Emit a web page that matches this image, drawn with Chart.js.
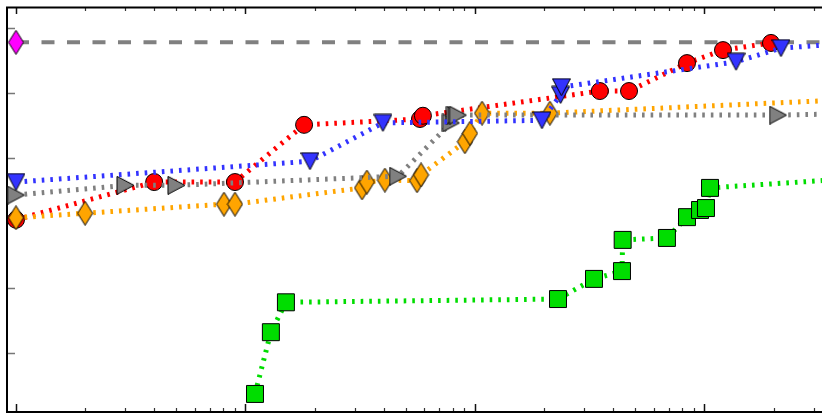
<!DOCTYPE html>
<html>
<head>
<meta charset="utf-8">
<script src="https://cdn.jsdelivr.net/npm/chart.js@4.4.1/dist/chart.umd.min.js"></script>
<style>
  html, body { margin: 0; padding: 0; background: #fff; overflow: hidden; }
  canvas { display: block; }
</style>
</head>
<body>
<canvas id="chart" width="822" height="414"></canvas>
<script>
// series (x on log scale)
const redX    = [1, 4.0, 9.0, 18, 57.6, 59.3, 350, 469, 839, 1204, 1949]
const redY    = [3.05, 3.63, 3.63, 4.51, 4.60, 4.65, 5.03, 5.03, 5.46, 5.66, 5.77]

const blueX   = [1, 19.1, 39.7, 195.8, 236, 238, 1372, 2154, 5817]
const blueY   = [3.63, 3.95, 4.54, 4.58, 4.97, 5.09, 5.48, 5.69, 5.80]

const grayX   = [1, 3.0, 5.0, 46.2, 78.6, 81.8, 84.3, 2091, 5817]
const grayY   = [3.43, 3.58, 3.58, 3.72, 4.54, 4.66, 4.66, 4.66, 4.69]

const orangeX = [1, 2.0, 8.06, 9.0, 32.2, 33.8, 40.5, 55.9, 58.2, 90.4, 95.1, 107.3, 212, 5817]
const orangeY = [3.08, 3.15, 3.29, 3.29, 3.54, 3.63, 3.66, 3.65, 3.74, 4.25, 4.38, 4.69, 4.69, 4.92]

const greenX  = [11.0, 12.9, 15.0, 230, 330, 437, 440, 686, 839, 956, 1015, 1057, 5817]
const greenY  = [0.37, 1.32, 1.78, 1.83, 2.14, 2.26, 2.74, 2.77, 3.09, 3.20, 3.23, 3.54, 3.71]

const magentaX = [1]
const magentaY = [5.78]

const refX = [1, 5817]
const refY = [5.78, 5.78]

// axis ticks (no labels)
const xMajorTicks = [1, 10, 100, 1000]
const yTicks      = [1, 2, 3, 4, 5, 6]

const pts = (xs, ys) => xs.map((x, i) => ({ x, y: ys[i] }))

// marker sprites: polygon in a w×h box, 1px black edge
function sprite(w, h, poly, fill) {
  const c = document.createElement("canvas")
  c.width = w
  c.height = h
  const g = c.getContext("2d")
  g.beginPath()
  poly.forEach(([px, py], i) => i ? g.lineTo(px, py) : g.moveTo(px, py))
  g.closePath()
  g.fillStyle = fill
  g.fill()
  g.lineWidth = 1
  g.strokeStyle = "#000"
  g.stroke()
  return c
}

const thinDiamond = fill => sprite(17, 25, [[8.5, 0.5], [16, 12.5], [8.5, 24.5], [1, 12.5]], fill)
const triDown     = fill => sprite(19, 19, [[0.5, 1], [18.5, 1], [9.5, 18]], fill)
const triRight    = fill => sprite(19, 19, [[1, 0.5], [18, 9.5], [1, 18.5]], fill)

const dotted = [2.6, 6]

function series(data, color, extra) {
  return Object.assign({
    data,
    borderColor: color,
    backgroundColor: color,
    pointBackgroundColor: color,
    pointBorderColor: "#000",
    pointBorderWidth: 1,
    borderWidth: 5,
    borderDash: dotted,
    borderCapStyle: "butt",
    tension: 0,
    fill: false
  }, extra)
}

// frame and inward tick marks
const frame = {
  id: "frame",
  beforeDatasetsDraw(chart) {
    const { ctx, chartArea: a, scales: { x, y } } = chart
    ctx.save()
    ctx.strokeStyle = "#333"
    ctx.lineWidth = 1.2
    const minors = []
    xMajorTicks.forEach(d => { for (let k = 2; k < 10; k++) minors.push(d * k) })
    minors.forEach(v => {
      const px = Math.round(x.getPixelForValue(v)) + 0.5
      if (px < a.left || px > a.right) return
      ctx.beginPath()
      ctx.moveTo(px, a.top); ctx.lineTo(px, a.top + 4)
      ctx.moveTo(px, a.bottom); ctx.lineTo(px, a.bottom - 4)
      ctx.stroke()
    })
    ctx.strokeStyle = "#111"
    ctx.lineWidth = 1.5
    xMajorTicks.forEach(v => {
      const px = Math.round(x.getPixelForValue(v)) + 0.5
      ctx.beginPath()
      ctx.moveTo(px, a.top); ctx.lineTo(px, a.top + 7)
      ctx.moveTo(px, a.bottom); ctx.lineTo(px, a.bottom - 8)
      ctx.stroke()
    })
    ctx.strokeStyle = "#777"
    ctx.lineWidth = 1.5
    yTicks.forEach(v => {
      const py = Math.round(y.getPixelForValue(v)) + 0.5
      ctx.beginPath()
      ctx.moveTo(a.left, py); ctx.lineTo(a.left + 8, py)
      ctx.stroke()
    })
    ctx.strokeStyle = "#000"
    ctx.lineWidth = 2
    ctx.beginPath()
    ctx.moveTo(a.right + 2, a.top + 0.5)
    ctx.lineTo(a.left, a.top + 0.5)
    ctx.lineTo(a.left, a.bottom)
    ctx.lineTo(a.right + 2, a.bottom)
    ctx.stroke()
    ctx.restore()
  }
}

new Chart(document.getElementById("chart"), {
  type: "line",
  data: {
    datasets: [
      {
        data: pts(refX, refY),
        borderColor: "#808080",
        borderWidth: 4,
        borderDash: [13, 12.5],
        pointRadius: 0,
        order: 7
      },
      series(pts(redX, redY), "#ff0000", { pointStyle: "circle", pointRadius: 8.5, order: 6 }),
      series(pts(orangeX, orangeY), "#ffa500", { pointStyle: thinDiamond("#ffa500"), order: 5 }),
      series(pts(grayX, grayY), "#808080", { pointStyle: triRight("#808080"), order: 4 }),
      series(pts(blueX, blueY), "#3333ff", { pointStyle: triDown("#3333ff"), order: 3 }),
      series(pts(greenX, greenY), "#00dd00", { pointStyle: "rect", pointRadius: 12, order: 2 }),
      {
        data: pts(magentaX, magentaY),
        showLine: false,
        pointStyle: thinDiamond("#ff00ff"),
        order: 1
      }
    ]
  },
  options: {
    responsive: false,
    devicePixelRatio: 1,
    animation: false,
    layout: { autoPadding: false, padding: { left: 7, top: 7, right: 0, bottom: 2 } },
    plugins: { legend: { display: false }, tooltip: { enabled: false } },
    scales: {
      x: { type: "logarithmic", min: 0.9137, max: 3251, display: false },
      y: { type: "linear", min: 0.0923, max: 6.323, display: false }
    }
  },
  plugins: [frame]
})
</script>
</body>
</html>
